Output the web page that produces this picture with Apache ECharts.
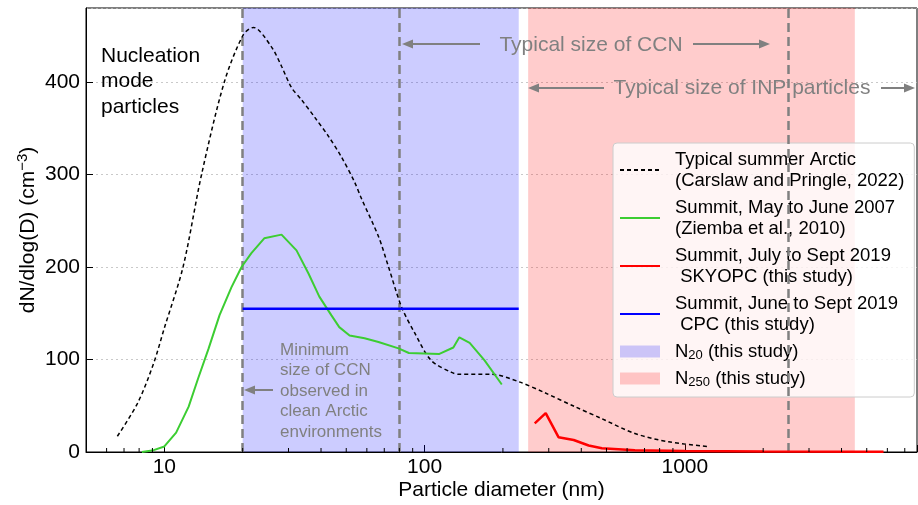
<!DOCTYPE html>
<html><head><meta charset="utf-8">
<script src="https://cdn.jsdelivr.net/npm/echarts@6/dist/echarts.min.js"></script>
<style>html,body{margin:0;padding:0;background:#fff}#c{width:918px;height:505px}</style>
</head><body><div id="c"></div>
<script>
// Typical summer Arctic (Carslaw and Pringle, 2022)
const carslawD = [6.6, 7.9, 9.1, 10, 11.8, 13.9, 17.0, 20.1, 22.0, 25.8, 28.2, 30.8, 33.6, 37.8, 42.8, 47.9, 53.8, 57.2, 66.5, 72.7, 81.5, 91.5, 106, 127, 136, 181, 230, 290, 378, 480, 643, 867, 1216];
const carslawN = [17, 53, 96, 134, 200, 300, 400, 451, 459, 438, 417, 394, 381, 362, 341, 319, 292, 274, 233, 200, 157, 129, 99, 86, 84, 84, 76, 64, 49, 36, 20, 11, 6];
// Summit, May to June 2007 (Ziemba et al., 2010)
const ziembaD = [8.2, 9.1, 10, 11.1, 12.4, 13.5, 14.8, 16.3, 18.1, 19.8, 21.6, 24.2, 28.2, 32.2, 35.8, 39.4, 43.8, 47.0, 51.5, 58.8, 66.5, 79.4, 87.0, 114, 129, 136, 149, 170, 198];
const ziembaN = [0, 2, 6, 21, 49, 80, 112, 148, 178, 200, 215, 231, 235, 218, 193, 168, 148, 135, 126, 123, 119, 112, 107, 106, 113, 124, 118, 99, 73];
// Summit, July to Sept 2019 SKYOPC
const skyopcD = [265, 292, 327, 374, 427, 480, 643, 1000, 2000, 5800];
const skyopcN = [31, 42, 16, 13, 7, 4, 2, 1, 0.5, 0.3];
// Summit, June to Sept 2019 CPC
const cpcD = [20, 230];
const cpcN = [155, 155];
// bands and reference lines
const n20Range = [20, 230];
const n250Range = [250, 4500];
const refLines = [20, 80, 2500];
const xMajorTicks = [10, 100, 1000];
const xMinorTicks = [6,7,8,9,20,30,40,50,60,70,80,90,200,300,400,500,600,700,800,900,2000,3000,4000,5000,6000,7000];
const yTicks = [0, 100, 200, 300, 400];

const names = {
  carslaw: 'Typical summer Arctic\n(Carslaw and Pringle, 2022)',
  ziemba: 'Summit, May to June 2007\n(Ziemba et al., 2010)',
  skyopc: 'Summit, July to Sept 2019\n SKYOPC (this study)',
  cpc: 'Summit, June to Sept 2019\n CPC (this study)',
  n20: 'N20',
  n250: 'N250'
};
const FONT = 'Liberation Sans';
const GREY = '#808080';
const BLUE_BAND = 'rgba(0,0,255,0.2)';
const RED_BAND = 'rgba(255,0,0,0.2)';

const zip = (a, b) => a.map((v, i) => [v, b[i]]);

function arrow(x1, y1, x2, y2) {
  const dx = x2 - x1, dy = y2 - y1, L = Math.hypot(dx, dy);
  const ux = dx / L, uy = dy / L, hl = 11, hw = 4.5;
  const bx = x2 - ux * hl, by = y2 - uy * hl;
  return [
    {type: 'line', silent: true, z: 50, shape: {x1, y1, x2: bx, y2: by}, style: {stroke: GREY, lineWidth: 2}},
    {type: 'polygon', silent: true, z: 50, shape: {points: [[x2, y2], [bx - uy * hw, by + ux * hw], [bx + uy * hw, by - ux * hw]]}, style: {fill: GREY}}
  ];
}
function txt(x, y, text, opts) {
  return {type: 'text', silent: true, z: 50, x, y,
    style: Object.assign({text, fill: GREY, font: '21px "' + FONT + '"', textVerticalAlign: 'middle'}, opts || {})};
}

const chart = echarts.init(document.getElementById('c'));
const isPow10 = v => { const l = Math.log10(v); return Math.abs(l - Math.round(l)) < 1e-6; };
const noSym = {opacity: 0};

chart.setOption({
  animation: false,
  textStyle: {fontFamily: FONT},
  grid: {left: 86, right: 1, top: 8, bottom: 53, outerBoundsMode: 'none', containLabel: false,
    show: true, borderColor: '#000', borderWidth: 1, backgroundColor: 'transparent'},
  xAxis: {
    type: 'log', logBase: 10, min: 5, max: 7800,
    name: 'Particle diameter (nm)', nameLocation: 'middle', nameGap: 38, nameMoveOverlap: false,
    nameTextStyle: {fontSize: 21, color: '#000', verticalAlign: 'middle', fontFamily: FONT},
    axisLine: {show: true, lineStyle: {color: '#000', width: 1}},
    axisTick: {show: true, inside: true, length: 7, lineStyle: {color: '#000', width: 1}},
    axisLabel: {fontSize: 21, color: '#000', margin: 5, fontFamily: FONT,
      formatter: v => (isPow10(v) && xMajorTicks.indexOf(Math.round(v)) >= 0) ? String(Math.round(v)) : ''},
    splitLine: {show: false}, minorTick: {show: false}
  },
  yAxis: {
    type: 'value', min: 0, max: 480, interval: 100,
    name: '{a|dN/dlog(D) (cm}{s|−3}{a|)}', nameLocation: 'middle', nameGap: 58, nameMoveOverlap: false,
    nameTextStyle: {color: '#000', verticalAlign: 'middle', rich: {
      a: {fontSize: 21, lineHeight: 25, fontFamily: FONT, color: '#000'},
      s: {fontSize: 15, lineHeight: 15, verticalAlign: 'top', fontFamily: FONT, color: '#000'}
    }},
    axisLine: {show: true, lineStyle: {color: '#000', width: 1}},
    axisTick: {show: true, inside: true, length: 7, lineStyle: {color: '#000'}},
    axisLabel: {fontSize: 21, color: '#000', margin: 6, fontFamily: FONT, showMaxLabel: false,
      formatter: v => yTicks.indexOf(v) >= 0 ? String(v) : ''},
    splitLine: {show: true, lineStyle: {color: '#bbbbbb', width: 0.8, type: [2, 3]}}
  },
  legend: {
    orient: 'vertical', left: 613, top: 143,
    padding: [6, 10, 8, 6], itemGap: 6, itemWidth: 40, itemHeight: 12,
    backgroundColor: 'rgba(255,255,255,0.8)', borderColor: '#cccccc', borderWidth: 1, borderRadius: 4,
    textStyle: {fontSize: 18.5, lineHeight: 21, color: '#000', fontFamily: FONT, padding: [0, 0, 0, 10],
      rich: {
        a: {fontSize: 18.5, lineHeight: 21, color: '#000', fontFamily: FONT},
        s: {fontSize: 13, lineHeight: 10, verticalAlign: 'bottom', color: '#000', fontFamily: FONT}
      }},
    formatter: n => n === 'N20' ? '{a|N}{s|20}{a| (this study)}' : n === 'N250' ? '{a|N}{s|250}{a| (this study)}' : n,
    data: [
      {name: names.carslaw, itemStyle: noSym}, {name: names.ziemba, itemStyle: noSym},
      {name: names.skyopc, itemStyle: noSym}, {name: names.cpc, itemStyle: noSym},
      {name: names.n20, icon: 'rect', itemStyle: {color: BLUE_BAND}},
      {name: names.n250, icon: 'rect', itemStyle: {color: RED_BAND}}
    ]
  },
  series: [
    {name: names.n20, type: 'line', data: [], color: BLUE_BAND, silent: true,
      markArea: {silent: true, itemStyle: {color: BLUE_BAND}, data: [[{xAxis: n20Range[0]}, {xAxis: n20Range[1]}]]}},
    {name: names.n250, type: 'line', data: [], color: RED_BAND, silent: true,
      markArea: {silent: true, itemStyle: {color: RED_BAND}, data: [[{xAxis: n250Range[0]}, {xAxis: n250Range[1]}]]}},
    {name: 'refLines', type: 'line', data: [], silent: true,
      markLine: {silent: true, symbol: ['none', 'none'], label: {show: false},
        lineStyle: {color: GREY, width: 2.5, type: [9, 5]},
        data: refLines.map(v => ({xAxis: v}))}},
    {name: names.carslaw, type: 'line', data: zip(carslawD, carslawN), showSymbol: false, symbol: 'none', smooth: 0.3,
      color: '#000', lineStyle: {color: '#000', width: 1.5, type: [4, 3]}, z: 5},
    {name: names.ziemba, type: 'line', data: zip(ziembaD, ziembaN), showSymbol: false, symbol: 'none',
      color: '#3ccd32', lineStyle: {color: '#3ccd32', width: 2}, z: 5},
    {name: names.skyopc, type: 'line', data: zip(skyopcD, skyopcN), showSymbol: false, symbol: 'none',
      color: '#ff0000', lineStyle: {color: '#ff0000', width: 2.5}, z: 5},
    {name: names.cpc, type: 'line', data: zip(cpcD, cpcN), showSymbol: false, symbol: 'none',
      color: '#0000ff', lineStyle: {color: '#0000ff', width: 2.5}, z: 5},
    {name: 'minorTicks', type: 'custom', silent: true, data: xMinorTicks.map(v => [v, 0]),
      renderItem: (params, api) => {
        const p = api.coord([api.value(0), 0]);
        return {type: 'line', shape: {x1: p[0], y1: p[1], x2: p[0], y2: p[1] - 4}, style: {stroke: '#000', lineWidth: 1}};
      }, z: 6}
  ],
  graphic: [
    txt(101, 43, 'Nucleation\nmode\nparticles', {fill: '#000', textVerticalAlign: 'top', lineHeight: 25.5}),
    txt(591, 45, 'Typical size of CCN', {textAlign: 'center'}),
    ...arrow(480, 44, 402, 44),
    ...arrow(693, 44, 770, 44),
    txt(742, 88, 'Typical size of INP particles', {textAlign: 'center'}),
    ...arrow(604, 88, 528, 88),
    ...arrow(881, 88, 915, 88),
    txt(280, 391, 'Minimum\nsize of CCN\nobserved in\nclean Arctic\nenvironments', {font: '17px "' + FONT + '"', lineHeight: 20.5}),
    ...arrow(273, 390, 244, 390)
  ]
});
</script></body></html>
